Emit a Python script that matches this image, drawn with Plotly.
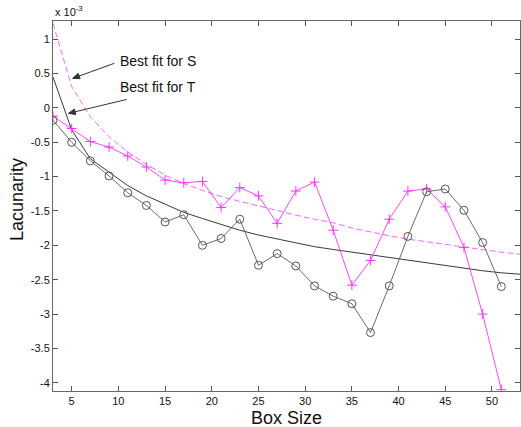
import math
import plotly.graph_objects as go

# Box sizes for measured data
box_size = [3, 5, 7, 9, 11, 13, 15, 17, 19, 21, 23, 25, 27, 29, 31, 33, 35, 37, 39, 41, 43, 45, 47, 49, 51]
# Lacunarity (x 1e-3)
lac_S = [-0.12, -0.30, -0.49, -0.57, -0.70, -0.86, -1.05, -1.09, -1.07, -1.45, -1.16, -1.28, -1.68,
         -1.21, -1.08, -1.78, -2.58, -2.22, -1.62, -1.21, -1.18, -1.44, -2.03, -3.00, -4.10]
lac_T = [-0.18, -0.50, -0.77, -0.99, -1.235, -1.42, -1.66, -1.555, -2.00, -1.90, -1.62, -2.29, -2.12,
         -2.30, -2.59, -2.74, -2.85, -3.27, -2.59, -1.87, -1.22, -1.18, -1.49, -1.96, -2.60]

# Best-fit curves
fit_x = [3, 5, 7, 9, 11, 13, 15, 17, 19, 21, 23, 25, 27, 29, 31, 33, 35, 37, 39, 41, 43, 45, 47, 49, 51, 53]
fit_S = [1.23, 0.31, -0.13, -0.42, -0.64, -0.82, -0.98, -1.10, -1.20, -1.29, -1.36, -1.43, -1.50,
         -1.56, -1.62, -1.67, -1.75, -1.81, -1.86, -1.91, -1.95, -1.99, -2.03, -2.07, -2.10, -2.13]
fit_T = [0.45, -0.32, -0.74, -0.94, -1.13, -1.28, -1.40, -1.52, -1.61, -1.70, -1.78, -1.85, -1.91,
         -1.97, -2.02, -2.06, -2.10, -2.14, -2.18, -2.22, -2.26, -2.29, -2.33, -2.37, -2.40, -2.42]

x_ticks = [5, 10, 15, 20, 25, 30, 35, 40, 45, 50]
y_ticks = [1, 0.5, 0, -0.5, -1, -1.5, -2, -2.5, -3, -3.5, -4]
y_tick_text = ["1", "0.5", "0", "-0.5", "-1", "-1.5", "-2", "-2.5", "-3", "-3.5", "-4"]

FONT = "Arial, Liberation Sans, sans-serif"
MAG = "#ff33ff"

fig = go.Figure()
fig.add_trace(go.Scatter(x=fit_x, y=fit_S, mode="lines",
                         line=dict(color="#ff66ff", width=1, dash="6px,3px"), showlegend=False))
fig.add_trace(go.Scatter(x=fit_x, y=fit_T, mode="lines",
                         line=dict(color="#3a3a3a", width=1), showlegend=False))
fig.add_trace(go.Scatter(x=box_size, y=lac_S, mode="lines+markers",
                         line=dict(color=MAG, width=0.9),
                         marker=dict(symbol="cross-thin", size=7, line=dict(color=MAG, width=1)),
                         showlegend=False))
fig.add_trace(go.Scatter(x=box_size, y=lac_T, mode="lines+markers",
                         line=dict(color="#5a5a5a", width=0.9),
                         marker=dict(symbol="circle-open", size=8, color="#555555", line=dict(width=1)),
                         showlegend=False))

axis_common = dict(showgrid=False, zeroline=False, showline=True, linecolor="#666666", linewidth=1,
                   mirror="ticks", ticks="inside", ticklen=5, tickcolor="#555555",
                   tickfont=dict(family=FONT, size=11, color="#111111"))

fig.update_xaxes(range=[3, 53], tickvals=x_ticks, ticktext=[str(v) for v in x_ticks], **axis_common)
fig.update_yaxes(range=[-4.12, 1.265], tickvals=y_ticks, ticktext=y_tick_text, **axis_common)

annotations = [
    dict(text="Box Size", xref="paper", yref="paper", x=0.5, y=0, xanchor="center", yanchor="middle",
         yshift=-27, showarrow=False, font=dict(family=FONT, size=18, color="#111111")),
    dict(text="Lacunarity", xref="paper", yref="paper", x=0, y=0.5, xanchor="center", yanchor="middle",
         xshift=-36, yshift=6, textangle=-90, showarrow=False,
         font=dict(family=FONT, size=18, color="#111111")),
    dict(text="x 10<sup>-3</sup>", xref="paper", yref="paper", x=0, y=1, xanchor="left", yanchor="bottom",
         yshift=1, showarrow=False, font=dict(family=FONT, size=11, color="#111111")),
    dict(text="Best fit for S", x=10.0, y=0.683, xanchor="left", yanchor="middle", showarrow=False,
         font=dict(family=FONT, size=14, color="#111111")),
    dict(text="Best fit for T", x=10.0, y=0.305, xanchor="left", yanchor="middle", showarrow=False,
         font=dict(family=FONT, size=14, color="#111111")),
]


def arrow_shapes(hx, hy, dx, dy, color="#333333", head_len=7.0, head_half=2.8):
    """Arrow drawn in pixel offsets from head (hx, hy) in data coordinates; tail at (dx, dy) px (y up)."""
    length = math.hypot(dx, dy)
    ux, uy = dx / length, dy / length
    nx, ny = -uy, ux
    bx, by = head_len * ux, head_len * uy
    line = dict(type="path", xref="x", yref="y", xsizemode="pixel", ysizemode="pixel",
                xanchor=hx, yanchor=hy, path=f"M{bx:.2f},{by:.2f} L{dx:.2f},{dy:.2f}",
                line=dict(color=color, width=1))
    head = dict(type="path", xref="x", yref="y", xsizemode="pixel", ysizemode="pixel",
                xanchor=hx, yanchor=hy,
                path=(f"M0,0 L{bx + head_half * nx:.2f},{by + head_half * ny:.2f} "
                      f"L{bx - head_half * nx:.2f},{by - head_half * ny:.2f} Z"),
                fillcolor=color, line=dict(color=color, width=1))
    return [line, head]


shapes = arrow_shapes(5.1, 0.43, 41.6, 15.0) + arrow_shapes(4.64, -0.08, 58.4, 14.0)

fig.update_layout(width=521, height=427, margin=dict(l=53, r=1, t=21, b=36),
                  plot_bgcolor="white", paper_bgcolor="white", annotations=annotations,
                  shapes=shapes, font=dict(family=FONT))

fig.write_html("out.html")
